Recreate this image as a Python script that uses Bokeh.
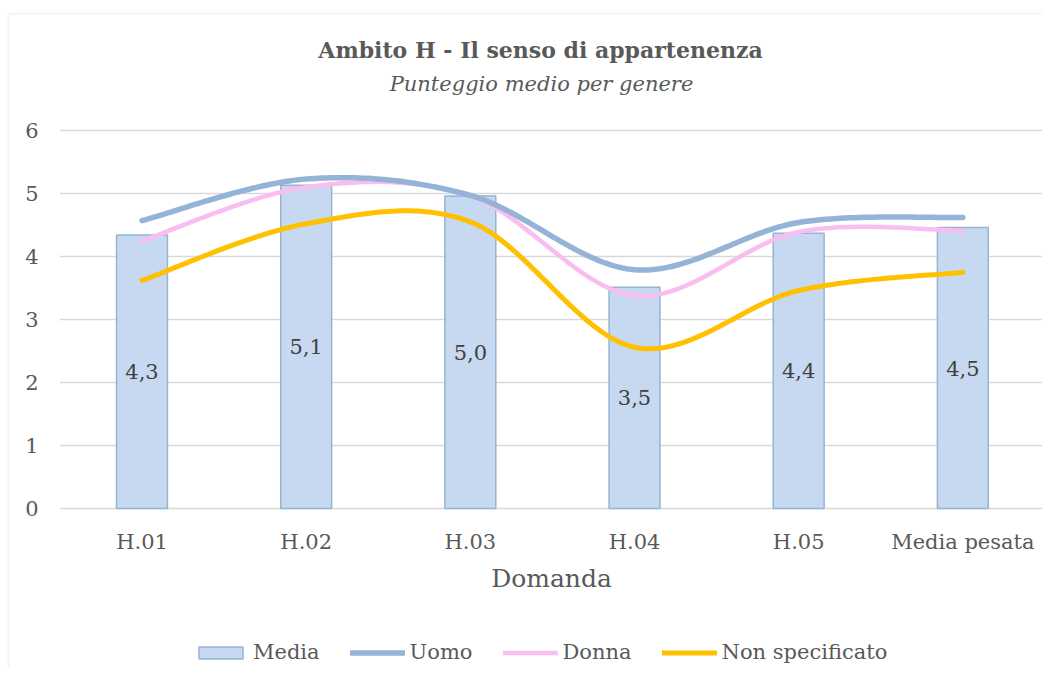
from bokeh.plotting import figure
from bokeh.models import Legend, LegendItem, Range1d, ColumnDataSource, BoxAnnotation
from bokeh.core.properties import value
from bokeh.embed import file_html
from bokeh.resources import INLINE
import numpy as np

# ---- data ----
categories = ["H.01", "H.02", "H.03", "H.04", "H.05", "Media pesata"]
media = [4.34, 5.13, 4.96, 3.51, 4.37, 4.46]
media_labels = ["4,3", "5,1", "5,0", "3,5", "4,4", "4,5"]
uomo = [4.57, 5.23, 4.97, 3.79, 4.54, 4.62]
donna = [4.25, 5.10, 4.96, 3.38, 4.39, 4.41]
non_specificato = [3.62, 4.52, 4.55, 2.56, 3.46, 3.75]
y_ticks = [0, 1, 2, 3, 4, 5, 6]
y_tick_labels = ["0", "1", "2", "3", "4", "5", "6"]
title_text = "Ambito H - Il senso di appartenenza"
subtitle_text = "Punteggio medio per genere"
x_axis_title = "Domanda"

FONT = "DejaVu Serif"
TXT = "#595959"
GRID = "#d9d9d9"

# ---- layout (pixels -> data) ----
W, H = 1042, 668
PX_CAT0, PX_STEP = 141.5, 164.17      # centre of first category, category spacing
PX_Y0, PX_UNIT = 508.0, 63.0          # pixel row of value 0, pixels per unit


def dx(px):
    return (px - PX_CAT0) / PX_STEP


def dy(py):
    return (PX_Y0 - py) / PX_UNIT


def smooth(xs, ys, n=40):
    """Catmull-Rom style smoothing (like a spreadsheet 'smoothed line')."""
    xs = np.asarray(xs, float)
    ys = np.asarray(ys, float)
    outx, outy = [], []
    m = len(xs)
    for i in range(m - 1):
        i0 = max(i - 1, 0)
        i3 = min(i + 2, m - 1)
        p0 = np.array([xs[i0], ys[i0]])
        p1 = np.array([xs[i], ys[i]])
        p2 = np.array([xs[i + 1], ys[i + 1]])
        p3 = np.array([xs[i3], ys[i3]])
        m1 = (p2 - p0) / 2.0
        m2 = (p3 - p1) / 2.0
        ts = np.linspace(0, 1, n, endpoint=(i == m - 2))
        for t in ts:
            h00 = 2 * t**3 - 3 * t**2 + 1
            h10 = t**3 - 2 * t**2 + t
            h01 = -2 * t**3 + 3 * t**2
            h11 = t**3 - t**2
            pt = h00 * p1 + h10 * m1 + h01 * p2 + h11 * m2
            outx.append(float(pt[0]))
            outy.append(float(pt[1]))
    return outx, outy


idx = list(range(len(categories)))
n_cat = len(categories)

p = figure(
    width=W, height=H,
    x_range=Range1d(dx(0), dx(W)),
    y_range=Range1d(dy(H), dy(0)),
    output_backend="svg", toolbar_location=None, title=None,
    x_axis_location=None, y_axis_location=None,
    min_border=0,
)
p.outline_line_color = None
p.grid.visible = False
p.background_fill_color = "white"
p.border_fill_color = "white"

# chart-area border (left + top visible in the picture)
p.add_layout(BoxAnnotation(left=dx(8), top=dy(13), right=dx(W + 50), bottom=dy(H + 50),
                           fill_alpha=0, line_color=GRID, line_width=2))

# gridlines (value axis)
p.segment(x0=[-0.5] * len(y_ticks), x1=[n_cat - 0.5] * len(y_ticks), y0=y_ticks, y1=y_ticks,
          line_color=GRID, line_width=1.5)

# titles
p.text(x=[dx(540)], y=[dy(49)], text=[title_text], text_align="center",
       text_baseline="middle", text_font=value(FONT), text_font_size="22px",
       text_font_style="bold", text_color=TXT)
p.text(x=[dx(541)], y=[dy(83)], text=[subtitle_text], text_align="center",
       text_baseline="middle", text_font=value(FONT), text_font_size="21px",
       text_font_style="italic", text_color=TXT)

# y tick labels
p.text(x=[dx(38)] * len(y_ticks), y=y_ticks, text=y_tick_labels, text_align="right",
       text_baseline="middle", text_font=value(FONT), text_font_size="21px", text_color=TXT)
# x tick labels
p.text(x=idx, y=[dy(541)] * n_cat, text=categories, text_align="center",
       text_baseline="middle", text_font=value(FONT), text_font_size="21px", text_color=TXT)
# x axis title
p.text(x=[dx(551)], y=[dy(578)], text=[x_axis_title], text_align="center",
       text_baseline="middle", text_font=value(FONT), text_font_size="25px", text_color=TXT)

# bars
bar_src = ColumnDataSource(dict(x=idx, top=media, ylab=[m / 2 for m in media], lab=media_labels))
bars = p.vbar(x="x", top="top", bottom=0, width=0.31, source=bar_src,
              fill_color="#c6d9f0", line_color="#95b3d7", line_width=1.5)
p.text(x="x", y="ylab", text="lab", source=bar_src, text_align="center",
       text_baseline="middle", text_font=value(FONT), text_font_size="21px",
       text_color="#404040")

# smoothed lines
ux, uy = smooth(idx, uomo)
ddx, ddy = smooth(idx, donna)
nx, ny = smooth(idx, non_specificato)
l_nonspec = p.line(nx, ny, line_color="#ffc000", line_width=5, line_cap="round")
l_donna = p.line(ddx, ddy, line_color="#f9bdf0", line_width=4.5, line_cap="round")
l_uomo = p.line(ux, uy, line_color="#95b3d7", line_width=5.5, line_cap="round")

legend = Legend(items=[
    LegendItem(label="Media", renderers=[bars]),
    LegendItem(label="Uomo", renderers=[l_uomo]),
    LegendItem(label="Donna", renderers=[l_donna]),
    LegendItem(label="Non specificato", renderers=[l_nonspec]),
], orientation="horizontal", location=(193, 4))
legend.label_text_font = FONT
legend.label_text_font_size = "21px"
legend.label_text_color = TXT
legend.border_line_color = None
legend.background_fill_alpha = 0
legend.glyph_width = 55
legend.glyph_height = 15
legend.label_standoff = 5
legend.spacing = 30
legend.margin = 0
legend.padding = 2
p.add_layout(legend, "center")

open("out.html", "w").write(file_html(p, INLINE))
